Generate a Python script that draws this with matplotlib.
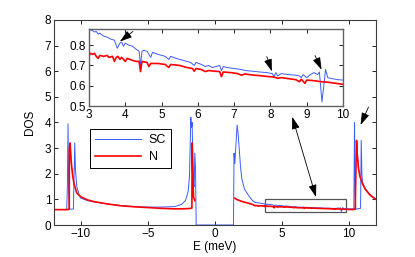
import numpy as np
import matplotlib
matplotlib.use('Agg')
import matplotlib.pyplot as plt
from matplotlib.patches import Rectangle

plt.rcParams['font.family'] = ['Liberation Sans', 'DejaVu Sans']
plt.rcParams['font.size'] = 8.5

# --- data ---
# superconducting DOS, outside the zoomed window
e_sc_left = [-12, -11.05, -11.0, -10.95, -10.9, -10.85, -10.55, -10.5, -10.45, -10.4,
             -10.3, -10.1, -10, -9.5, -9, -8, -7, -6, -5, -4, -3, -2.5, -2.2, -2.0,
             -1.9, -1.85, -1.8, -1.75, -1.7, -1.65, -1.6, -1.55, -1.5, -1.45, -1.4,
             1.38, 1.42, 1.48, 1.55, 1.65, 1.72, 1.8, 1.9, 2.0, 2.2, 2.5, 2.8]
sc_left = [0.6, 0.6, 1.5, 3.95, 1.2, 0.62, 0.62, 2.0, 3.2, 2.2,
           1.5, 1.15, 1.05, 0.95, 0.9, 0.82, 0.76, 0.72, 0.7, 0.7, 0.72, 0.8, 0.95, 1.3,
           1.9, 3.0, 4.2, 3.8, 4.0, 2.5, 1.6, 1.5, 2.8, 2.2, 0.0,
           0.0, 2.8, 2.4, 3.0, 3.9, 3.6, 3.0, 2.3, 1.8, 1.4, 1.15, 0.95]
e_sc_right = [10.15, 10.3, 10.35, 10.4, 10.45, 10.5, 10.85, 10.9, 10.95, 11.0, 11.2, 11.5, 11.8, 12]
sc_right = [0.63, 0.64, 0.66, 4.0, 1.2, 0.62, 0.65, 3.3, 2.0, 1.65, 1.42, 1.22, 1.08, 1.02]

# normal-state DOS, outside the zoomed window
e_n_left = [-12, -11.0, -10.86, -10.85, -10.8, -10.7, -10.6, -10.5, -10.3, -10.0, -9.5,
            -9, -8, -7, -6, -5, -4, -3, -2.5, -2, -1.8, -1.72, -1.7, -1.65, -1.6, -1.5]
n_left = [0.6, 0.6, 0.62, 3.0, 3.2, 2.4, 1.9, 1.6, 1.25, 1.1, 0.98,
          0.91, 0.82, 0.75, 0.71, 0.68, 0.65, 0.63, 0.63, 0.64, 0.65, 0.66, 3.2, 2.0, 1.1, 0.95]
e_n_mid = [1.48, 1.6, 2.0, 2.5, 2.8]
n_mid = [1.05, 1.0, 0.92, 0.85, 0.8]
e_n_right = [10.15, 10.3, 10.45, 10.5, 10.55, 10.6, 10.7, 10.8, 11.0, 11.2, 11.5, 11.8, 12]
n_right = [0.605, 0.6, 0.62, 2.0, 3.3, 2.8, 2.2, 1.9, 1.6, 1.4, 1.2, 1.07, 1.0]

# zoomed window 3..10 meV
e_sc_zoom = [3.0, 3.1, 3.15, 3.2, 3.25, 3.3, 3.4, 3.5, 3.6, 3.7, 3.75, 3.78, 3.85, 3.9,
             3.95, 4.0, 4.1, 4.2, 4.3, 4.38, 4.42, 4.46, 4.5, 4.6, 4.7, 4.75, 4.9, 5.0,
             5.1, 5.2, 5.25, 5.4, 5.5, 5.6, 5.7, 5.8, 5.9, 5.95, 6.1, 6.2, 6.3, 6.4, 6.5,
             6.6, 6.65, 6.7, 6.8, 7.0, 7.2, 7.3, 7.5, 7.7, 7.9, 8.05, 8.1, 8.15, 8.2, 8.3,
             8.5, 8.7, 8.8, 8.85, 8.9, 9.0, 9.1, 9.2, 9.3, 9.35, 9.42, 9.47, 9.52, 9.58,
             9.7, 9.85, 10.0]
sc_zoom = [0.878, 0.872, 0.865, 0.868, 0.855, 0.86, 0.845, 0.84, 0.83, 0.825, 0.8, 0.785, 0.81, 0.815,
           0.795, 0.81, 0.8, 0.795, 0.78, 0.77, 0.70, 0.77, 0.775, 0.77, 0.74, 0.765, 0.755, 0.75,
           0.745, 0.73, 0.745, 0.735, 0.73, 0.725, 0.72, 0.715, 0.70, 0.715, 0.705, 0.695, 0.70, 0.69, 0.695,
           0.70, 0.675, 0.695, 0.69, 0.685, 0.68, 0.675, 0.672, 0.668, 0.665, 0.66, 0.645, 0.665, 0.648, 0.66,
           0.655, 0.652, 0.648, 0.64, 0.655, 0.64, 0.655, 0.665, 0.655, 0.668, 0.52, 0.60, 0.68, 0.64,
           0.635, 0.63, 0.628]
e_n_zoom = [3.0, 3.05, 3.1, 3.15, 3.2, 3.25, 3.3, 3.4, 3.5, 3.55, 3.65, 3.7, 3.75, 3.8, 3.85,
            3.9, 4.0, 4.05, 4.2, 4.3, 4.38, 4.42, 4.46, 4.6, 4.65, 4.7, 4.9, 5.1, 5.2, 5.25,
            5.5, 5.7, 5.85, 5.9, 5.95, 6.1, 6.2, 6.3, 6.45, 6.6, 6.65, 6.7, 6.9, 7.1, 7.2,
            7.3, 7.5, 7.7, 7.9, 8.1, 8.2, 8.3, 8.5, 8.7, 8.8, 8.85, 8.95, 9.0, 9.2, 9.4,
            9.6, 9.8, 10.0]
n_zoom = [0.75, 0.76, 0.755, 0.76, 0.745, 0.735, 0.75, 0.745, 0.75, 0.74, 0.745, 0.72, 0.74, 0.745, 0.73,
          0.74, 0.72, 0.735, 0.725, 0.72, 0.72, 0.67, 0.72, 0.715, 0.695, 0.71, 0.71, 0.705, 0.69, 0.705,
          0.70, 0.69, 0.685, 0.672, 0.685, 0.68, 0.67, 0.675, 0.672, 0.67, 0.645, 0.668, 0.665, 0.66, 0.652,
          0.658, 0.653, 0.65, 0.646, 0.643, 0.637, 0.64, 0.635, 0.63, 0.62, 0.632, 0.612, 0.628, 0.625, 0.62,
          0.617, 0.612, 0.607]

# join segments (gap in N between the band edges)
e_sc = e_sc_left + e_sc_zoom + e_sc_right
sc = sc_left + sc_zoom + sc_right
e_n = e_n_left + [0.0] + e_n_mid + e_n_zoom + e_n_right
n = n_left + [np.nan] + n_mid + n_zoom + n_right

blue = '#3a5cff'
red = '#ff0000'
frame = '#3c3c3c'
head = '-|>,head_length=0.75,head_width=0.24'
arrow_kw = dict(color='black', lw=0.6, mutation_scale=10, shrinkA=0, shrinkB=0)

fig = plt.figure(figsize=(4.15, 2.57), dpi=100)
ax = fig.add_axes([0.130, 0.1245, 0.776, 0.798])
ax.plot(e_sc, sc, color=blue, lw=0.7, label='SC')
ax.plot(e_n, n, color=red, lw=1.2, label='N')
ax.set_xlim(-12, 12)
ax.set_ylim(0, 8)
ax.set_xticks([-10, -5, 0, 5, 10])
ax.set_yticks(range(0, 9))
ax.set_xlabel('E (meV)', labelpad=1)
ax.set_ylabel('DOS', labelpad=6)
ax.tick_params(direction='in', length=3, width=0.6, top=True, right=True, pad=2, colors='black')
for s in ax.spines.values():
    s.set_color(frame)
    s.set_linewidth(0.8)

ax.add_patch(Rectangle((3.7, 0.52), 6.1, 0.51, fill=False, edgecolor='#555555', lw=0.9))
ax.annotate('', xy=(5.76, 4.22), xytext=(7.53, 1.09),
            arrowprops=dict(arrowstyle='<|-|>,head_length=0.75,head_width=0.24', **arrow_kw))
ax.annotate('', xy=(10.85, 3.9), xytext=(11.44, 4.6),
            arrowprops=dict(arrowstyle=head, **arrow_kw))

leg = ax.legend(loc='upper left', bbox_to_anchor=(0.112, 0.468), fontsize=9,
                fancybox=False, framealpha=1, edgecolor='black', handlelength=3.7,
                borderpad=0.4, labelspacing=0.4, handletextpad=0.6, borderaxespad=0)
leg.get_frame().set_linewidth(0.7)

ins = fig.add_axes([0.2145, 0.5875, 0.612, 0.2996])
ins.plot(e_sc_zoom, sc_zoom, color=blue, lw=0.7)
ins.plot(e_n_zoom, n_zoom, color=red, lw=1.2)
ins.set_xlim(3, 10)
ins.set_ylim(0.5, 0.88)
ins.set_xticks(range(3, 11))
ins.set_yticks([0.5, 0.6, 0.7, 0.8])
ins.set_yticklabels(['0.5', '0.6', '0.7', '0.8'])
ins.tick_params(direction='in', length=3, width=0.6, top=True, right=True, pad=2)
for s in ins.spines.values():
    s.set_color('#606060')
    s.set_linewidth(1.0)
for tail, tip in [((4.21, 0.868), (3.85, 0.818)),
                  ((7.9, 0.744), (8.04, 0.671)),
                  ((9.23, 0.749), (9.41, 0.679))]:
    ins.annotate('', xy=tip, xytext=tail, arrowprops=dict(arrowstyle=head, **arrow_kw))

fig.savefig('out.png', dpi=100)
